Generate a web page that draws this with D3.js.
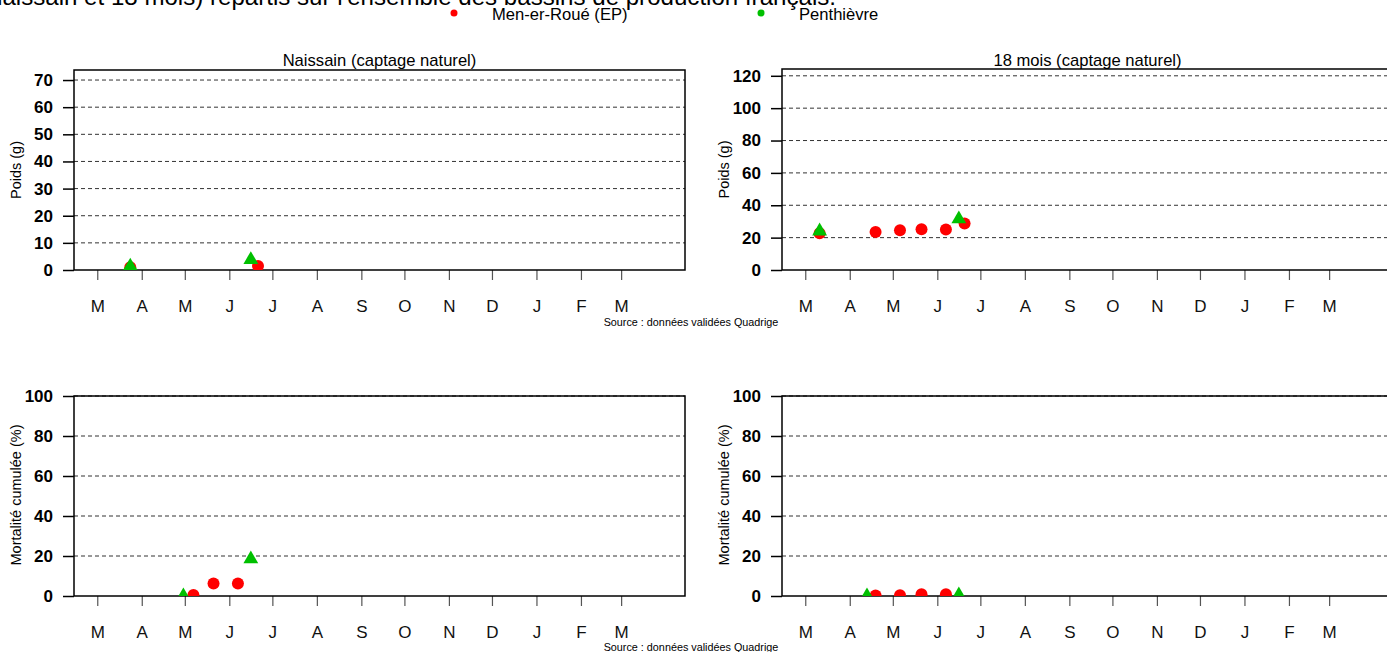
<!DOCTYPE html>
<html>
<head>
<meta charset="utf-8">
<script src="https://cdn.jsdelivr.net/npm/d3@7"></script>
<style>
  body { margin: 0; background: #fff; }
  svg { display: block; font-family: "Liberation Sans", Arial, sans-serif; }
</style>
</head>
<body>
<script>
// month tick labels (March to March)
const monthLabels = ["M", "A", "M", "J", "J", "A", "S", "O", "N", "D", "J", "F", "M"]

// series: [date, value]
const naissainPoidsMen = [["2021-03-24", 1.0], ["2021-06-21", 1.5]]
const naissainPoidsPen = [["2021-03-24", 1.4], ["2021-06-16", 3.8]]
const mois18PoidsMen = [["2021-03-11", 22.7], ["2021-04-19", 23.5], ["2021-05-06", 24.5], ["2021-05-21", 25.2], ["2021-06-07", 25.0], ["2021-06-20", 28.8]]
const mois18PoidsPen = [["2021-03-11", 24.0], ["2021-06-16", 31.5]]
const naissainMortMen = [["2021-05-07", 0.5], ["2021-05-21", 6.3], ["2021-06-07", 6.3]]
const naissainMortPen = [["2021-04-30", 0], ["2021-06-16", 18.5]]
const mois18MortMen = [["2021-04-19", 0.3], ["2021-05-06", 0.4], ["2021-05-21", 0.9], ["2021-06-07", 0.9]]
const mois18MortPen = [["2021-04-13", 0], ["2021-06-16", 0.5]]

const seriesNames = ["Men-er-Roué (EP)", "Penthièvre"]
const seriesColors = ["#ff0000", "#00c000"]

const poidsNaissainTicks = [0, 10, 20, 30, 40, 50, 60, 70]
const poids18Ticks = [0, 20, 40, 60, 80, 100, 120]
const mortTicks = [0, 20, 40, 60, 80, 100]

const W = 1387, H = 652
const parse = d3.utcParse("%Y-%m-%d")
const monthTicks = d3.utcMonths(Date.UTC(2021, 2, 1), Date.UTC(2022, 2, 2))

const panels = [
  { l: 74, t: 70, r: 685, b: 270, ymax: 73.7, ticks: poidsNaissainTicks, title: "Naissain (captage naturel)", ylab: "Poids (g)", men: naissainPoidsMen, pen: naissainPoidsPen },
  { l: 782, t: 69, r: 1393, b: 270, ymax: 124.2, ticks: poids18Ticks, title: "18 mois (captage naturel)", ylab: "Poids (g)", men: mois18PoidsMen, pen: mois18PoidsPen },
  { l: 74, t: 396, r: 685, b: 596, ymax: 100, ticks: mortTicks, title: null, ylab: "Mortalité cumulée (%)", men: naissainMortMen, pen: naissainMortPen },
  { l: 782, t: 396, r: 1393, b: 596, ymax: 100, ticks: mortTicks, title: null, ylab: "Mortalité cumulée (%)", men: mois18MortMen, pen: mois18MortPen }
]

const svg = d3.select("body").append("svg")
  .attr("width", W)
  .attr("height", H)

// cut-off heading at the very top
svg.append("text")
  .attr("x", 836)
  .attr("y", 5)
  .attr("text-anchor", "end")
  .style("font-size", "24.1px")
  .text("(naissain et 18 mois) répartis sur l'ensemble des bassins de production français.")

// legend
const legendX = [454, 761]
seriesNames.forEach((name, i) => {
  svg.append("circle")
    .attr("cx", legendX[i])
    .attr("cy", 13)
    .attr("r", 3.5)
    .attr("fill", seriesColors[i])
  svg.append("text")
    .attr("x", legendX[i] + 38)
    .attr("y", 20)
    .style("font-size", "16.6px")
    .text(name)
})

panels.forEach((p, k) => {
  const x = d3.scaleUtc()
    .domain([Date.UTC(2021, 1, 12, 19), Date.UTC(2022, 3, 14, 12)])
    .range([p.l, p.l + 611])
  const y = d3.scaleLinear().domain([0, p.ymax]).range([p.b, p.t])

  const g = svg.append("g")

  // dashed grid
  g.selectAll("line.grid")
    .data(p.ticks.filter(d => d > 0))
    .enter().append("line")
    .attr("class", "grid")
    .attr("x1", p.l).attr("x2", p.r)
    .attr("y1", d => y(d)).attr("y2", d => y(d))
    .attr("stroke", "#333")
    .attr("stroke-width", 1)
    .attr("stroke-dasharray", "4,3")

  // y axis
  const yAxis = d3.axisLeft(y).tickValues(p.ticks).tickSize(11).tickPadding(10)
  const ya = g.append("g")
    .attr("transform", "translate(" + p.l + ",0)")
    .call(yAxis)
  ya.select(".domain").remove()
  ya.selectAll("line").attr("stroke", "#000").attr("stroke-width", 1.5)
  ya.selectAll("text")
    .attr("fill", "#000")
    .style("font-size", "17px")
    .style("font-weight", "bold")
    .style("font-family", "'Liberation Sans', Arial, sans-serif")

  // month axis
  const xAxis = d3.axisBottom(x)
    .tickValues(monthTicks)
    .tickFormat((d, i) => monthLabels[i])
    .tickSize(10)
    .tickPadding(20)
  const xa = g.append("g")
    .attr("transform", "translate(0," + p.b + ")")
    .call(xAxis)
  xa.select(".domain").remove()
  xa.selectAll("line").attr("stroke", "#555").attr("stroke-width", 1.2)
  xa.selectAll("text")
    .attr("fill", "#111")
    .style("font-size", "17px")
    .style("font-family", "'Liberation Sans', Arial, sans-serif")

  // box
  g.append("rect")
    .attr("x", p.l).attr("y", p.t)
    .attr("width", p.r - p.l).attr("height", p.b - p.t)
    .attr("fill", "none")
    .attr("stroke", "#000")
    .attr("stroke-width", 1.5)

  // points, clipped to plot area
  svg.append("clipPath").attr("id", "clip" + k)
    .append("rect")
    .attr("x", p.l).attr("y", p.t)
    .attr("width", p.r - p.l).attr("height", p.b - p.t)
  const pts = g.append("g").attr("clip-path", "url(#clip" + k + ")")
  pts.selectAll("circle")
    .data(p.men)
    .enter().append("circle")
    .attr("cx", d => x(parse(d[0])))
    .attr("cy", d => y(d[1]))
    .attr("r", 6)
    .attr("fill", seriesColors[0])
  pts.selectAll("path")
    .data(p.pen)
    .enter().append("path")
    .attr("transform", d => "translate(" + x(parse(d[0])) + "," + y(d[1]) + ")")
    .attr("d", d3.symbol().type(d3.symbolTriangle).size(95))
    .attr("fill", seriesColors[1])

  // titles
  if (p.title) {
    svg.append("text")
      .attr("x", (p.l + p.r) / 2)
      .attr("y", 66)
      .attr("text-anchor", "middle")
      .style("font-size", "16.6px")
      .text(p.title)
  }
  svg.append("text")
    .attr("transform", "translate(" + (p.l - 53) + "," + ((p.t + p.b) / 2 + (k < 2 ? 0 : -1)) + ") rotate(-90)")
    .attr("text-anchor", "middle")
    .style("font-size", "14.5px")
    .text(p.ylab)
})

// source notes
;[326, 651].forEach(yy => {
  svg.append("text")
    .attr("x", 691)
    .attr("y", yy)
    .attr("text-anchor", "middle")
    .style("font-size", "10.8px")
    .text("Source : données validées Quadrige")
})
</script>
</body>
</html>
